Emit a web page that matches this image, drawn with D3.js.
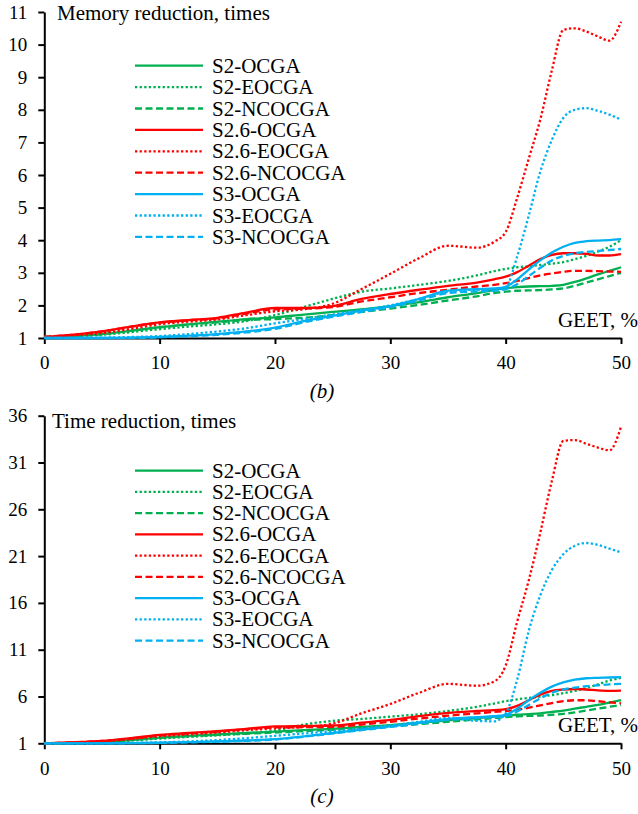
<!DOCTYPE html>
<html>
<head>
<meta charset="utf-8">
<script src="https://cdn.jsdelivr.net/npm/d3@7/dist/d3.min.js"></script>
<style>
  html, body { margin: 0; padding: 0; background: #fff; }
  svg { display: block; font-family: "Liberation Serif", "Times New Roman", serif; }
</style>
</head>
<body>
<svg id="chart" width="638" height="814"></svg>
<script>
// GEET, % sampling points shared by every series
const geet = [0, 2.5, 5, 7.5, 10, 12.5, 15, 17.5, 20, 22.5, 25, 27.5, 30, 32.5, 35, 37.5, 39, 40, 41, 42, 43, 44, 45, 46, 47, 48, 49, 50];

const seriesNames = ["S2-OCGA", "S2-EOCGA", "S2-NCOCGA", "S2.6-OCGA", "S2.6-EOCGA", "S2.6-NCOCGA", "S3-OCGA", "S3-EOCGA", "S3-NCOCGA"];

// (b) memory reduction, times
const memS2OCGA     = [1.03,1.06,1.12,1.22,1.33,1.42,1.50,1.58,1.63,1.72,1.80,1.88,1.98,2.10,2.25,2.38,2.48,2.53,2.56,2.58,2.59,2.60,2.63,2.72,2.83,2.95,3.06,3.17];
const memS2EOCGA    = [1.03,1.06,1.10,1.18,1.27,1.35,1.42,1.52,1.70,1.95,2.20,2.42,2.52,2.63,2.75,2.92,3.05,3.12,3.17,3.20,3.24,3.28,3.33,3.42,3.52,3.65,3.80,4.00];
const memS2NCOCGA   = [1.03,1.06,1.12,1.22,1.33,1.41,1.48,1.55,1.58,1.62,1.70,1.80,1.90,2.02,2.15,2.28,2.38,2.42,2.45,2.46,2.47,2.49,2.52,2.60,2.70,2.80,2.90,3.00];
const memS26OCGA    = [1.03,1.10,1.20,1.35,1.48,1.55,1.62,1.78,1.92,1.92,1.98,2.20,2.35,2.48,2.60,2.70,2.80,2.88,3.02,3.22,3.42,3.55,3.60,3.60,3.58,3.53,3.53,3.57];
const memS26EOCGA   = [1.03,1.08,1.15,1.28,1.42,1.50,1.57,1.70,1.82,1.88,2.05,2.50,2.97,3.45,3.83,3.77,3.95,4.25,5.30,6.50,7.70,9.20,10.45,10.50,10.40,10.25,10.12,10.70];
const memS26NCOCGA  = [1.03,1.10,1.20,1.35,1.47,1.54,1.60,1.75,1.88,1.90,1.95,2.12,2.25,2.38,2.48,2.58,2.63,2.68,2.75,2.84,2.92,2.98,3.03,3.06,3.06,3.05,3.04,3.03];
const memS3OCGA     = [1.00,1.00,1.00,1.01,1.03,1.07,1.12,1.20,1.32,1.52,1.68,1.84,1.98,2.20,2.45,2.50,2.52,2.57,2.80,3.10,3.38,3.62,3.80,3.92,3.97,3.99,4.00,4.03];
const memS3EOCGA    = [1.00,1.00,1.01,1.03,1.06,1.12,1.20,1.30,1.45,1.58,1.72,1.86,2.00,2.20,2.42,2.48,2.47,2.55,3.50,4.75,6.10,7.07,7.75,8.00,8.05,7.97,7.85,7.70];
const memS3NCOCGA   = [1.00,1.00,1.00,1.00,1.02,1.05,1.10,1.17,1.28,1.48,1.65,1.80,1.95,2.15,2.38,2.43,2.45,2.50,2.65,2.90,3.15,3.38,3.52,3.60,3.64,3.67,3.70,3.73];

// (c) time reduction, times
const timeS2OCGA    = [1.00,1.05,1.15,1.35,1.60,1.80,1.95,2.10,2.25,2.40,2.55,2.75,2.95,3.20,3.45,3.70,3.85,3.95,4.05,4.12,4.20,4.35,4.50,4.70,4.90,5.10,5.35,5.60];
const timeS2EOCGA   = [1.00,1.04,1.12,1.30,1.50,1.68,1.85,2.05,2.35,3.00,3.40,3.60,3.85,4.10,4.45,4.90,5.25,5.50,5.70,5.85,6.00,6.15,6.35,6.60,6.90,7.30,7.70,8.00];
const timeS2NCOCGA  = [1.00,1.05,1.15,1.35,1.58,1.75,1.90,2.02,2.15,2.30,2.45,2.62,2.80,3.05,3.30,3.55,3.70,3.80,3.87,3.92,3.97,4.05,4.15,4.30,4.50,4.70,4.90,5.10];
const timeS26OCGA   = [1.00,1.10,1.25,1.55,1.90,2.10,2.30,2.55,2.80,2.85,2.90,3.20,3.50,3.90,4.25,4.45,4.55,4.65,5.00,5.60,6.20,6.60,6.75,6.80,6.75,6.65,6.60,6.62];
const timeS26EOCGA  = [1.00,1.08,1.20,1.45,1.75,1.95,2.15,2.40,2.60,2.75,3.10,4.20,5.20,6.40,7.35,7.15,7.60,9.30,14.00,18.40,23.50,29.00,33.30,33.40,33.00,32.60,32.30,34.80];
const timeS26NCOCGA = [1.00,1.10,1.25,1.50,1.85,2.05,2.25,2.50,2.70,2.72,2.75,3.00,3.30,3.65,3.95,4.20,4.35,4.45,4.60,4.80,5.05,5.30,5.50,5.60,5.60,5.50,5.38,5.27];
const timeS3OCGA    = [1.00,1.00,1.00,1.02,1.06,1.12,1.20,1.30,1.45,1.75,2.10,2.45,2.80,3.20,3.60,3.80,3.90,4.05,4.70,5.60,6.40,7.05,7.50,7.80,7.95,8.00,8.03,8.08];
const timeS3EOCGA   = [1.00,1.00,1.01,1.04,1.10,1.20,1.35,1.55,1.80,2.05,2.30,2.60,2.90,3.30,3.70,3.40,3.35,4.20,7.80,13.00,16.80,19.50,21.20,22.10,22.40,22.20,21.80,21.40];
const timeS3NCOCGA  = [1.00,1.00,1.00,1.01,1.04,1.10,1.17,1.27,1.40,1.70,2.05,2.40,2.75,3.10,3.50,3.70,3.80,3.90,4.40,5.10,5.80,6.40,6.75,6.95,7.10,7.20,7.30,7.35];

const xTicks = [0, 10, 20, 30, 40, 50];
const memTicks = [1, 2, 3, 4, 5, 6, 7, 8, 9, 10, 11];
const timeTicks = [1, 6, 11, 16, 21, 26, 31, 36];

const memValues = [memS2OCGA, memS2EOCGA, memS2NCOCGA, memS26OCGA, memS26EOCGA, memS26NCOCGA, memS3OCGA, memS3EOCGA, memS3NCOCGA];
const timeValues = [timeS2OCGA, timeS2EOCGA, timeS2NCOCGA, timeS26OCGA, timeS26EOCGA, timeS26NCOCGA, timeS3OCGA, timeS3EOCGA, timeS3NCOCGA];

// Line styling per series: colour by scheme, dash pattern by algorithm variant
const colorOf = name => name.startsWith("S2.6") ? "#FF0000" : name.startsWith("S3") ? "#00B0F0" : "#00B050";
const dashOf = name => name.includes("-EOCGA") ? "2.3 2.3" : name.includes("NCOCGA") ? "7 3.5" : null;

const svg = d3.select("#chart");

function drawPanel(opt) {
  const x = d3.scaleLinear().domain([0, 50]).range([44.3, 621]);
  const y = d3.scaleLinear().domain(opt.yDomain).range([opt.y0, opt.y1]);
  const g = svg.append("g");

  // axes
  const xAxis = g.append("g")
    .attr("transform", `translate(0,${opt.y0})`)
    .call(d3.axisBottom(x).tickValues(xTicks).tickSize(6).tickSizeOuter(0).tickPadding(12));
  const yAxis = g.append("g")
    .attr("transform", `translate(${x(0)},0)`)
    .call(d3.axisLeft(y).tickValues(opt.yTicks).tickSize(6).tickSizeOuter(0).tickPadding(11));
  [xAxis, yAxis].forEach(a => {
    a.select(".domain").attr("stroke", "#000").attr("stroke-width", 2);
    a.selectAll(".tick line").attr("stroke", "#000").attr("stroke-width", 2);
    a.selectAll(".tick text").attr("fill", "#000").style("font-size", "19px")
      .style("font-family", "'Liberation Serif', 'Times New Roman', serif");
  });

  // series
  const line = d3.line()
    .x((d, i) => x(geet[i]))
    .y(d => y(d))
    .curve(d3.curveMonotoneX);

  seriesNames.forEach((name, k) => {
    g.append("path")
      .datum(opt.values[k])
      .attr("fill", "none")
      .attr("stroke", colorOf(name))
      .attr("stroke-width", 2.3)
      .attr("stroke-dasharray", dashOf(name))
      .attr("d", line);
  });

  // titles
  g.append("text").attr("x", opt.titleX).attr("y", opt.titleY)
    .style("font-size", "21px").attr("fill", "#000").text(opt.title);
  g.append("text").attr("x", 638).attr("y", opt.y0 - 11)
    .attr("text-anchor", "end").style("font-size", "21px").attr("fill", "#000").text("GEET, %");
  g.append("text").attr("x", 322).attr("y", opt.captionY)
    .attr("text-anchor", "middle").style("font-size", "21px").style("font-style", "italic")
    .attr("fill", "#000").text(opt.caption);

  // legend
  const leg = g.append("g");
  seriesNames.forEach((name, k) => {
    const ly = opt.legendY + k * opt.legendStep;
    leg.append("line").attr("x1", 135).attr("x2", 203).attr("y1", ly).attr("y2", ly)
      .attr("stroke", colorOf(name)).attr("stroke-width", 2.3)
      .attr("stroke-dasharray", dashOf(name));
    leg.append("text").attr("x", 212).attr("y", ly + 7)
      .style("font-size", "21px").attr("fill", "#000").text(name);
  });
}

drawPanel({
  yDomain: [1, 11], y0: 338, y1: 12, yTicks: memTicks, values: memValues,
  title: "Memory reduction, times", titleX: 57, titleY: 20,
  caption: "(b)", captionY: 398,
  legendY: 65.7, legendStep: 21.4
});

drawPanel({
  yDomain: [1, 36], y0: 743.3, y1: 415.7, yTicks: timeTicks, values: timeValues,
  title: "Time reduction, times", titleX: 52, titleY: 428,
  caption: "(c)", captionY: 803,
  legendY: 470.7, legendStep: 21.25
});
</script>
</body>
</html>
